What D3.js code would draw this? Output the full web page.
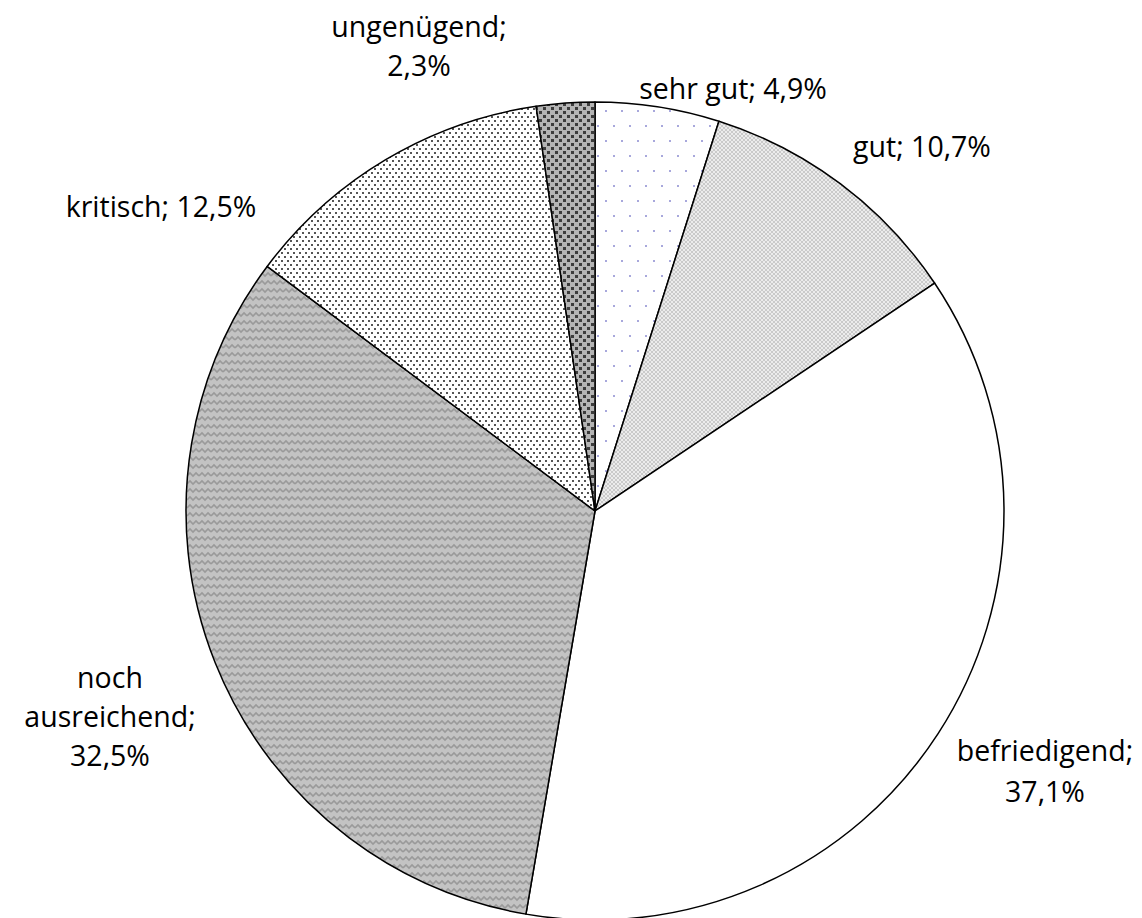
<!DOCTYPE html>
<html>
<head>
<meta charset="utf-8">
<script src="https://cdn.jsdelivr.net/npm/d3@7"></script>
<style>
  body { margin: 0; background: #fff; }
  svg { display: block; }
</style>
</head>
<body>
<div id="chart"></div>
<script>
const width = 1142;
const height = 918;

// data
const categories = ["sehr gut", "gut", "befriedigend", "noch ausreichend", "kritisch", "ungenügend"];
const shares = [4.9, 10.7, 37.1, 32.5, 12.5, 2.3];
// label lines as shown in the chart
const labelLines = [
	["sehr gut; 4,9%"],
	["gut; 10,7%"],
	["befriedigend;", "37,1%"],
	["noch", "ausreichend;", "32,5%"],
	["kritisch; 12,5%"],
	["ungenügend;", "2,3%"],
];
// label anchor points (centre x, first baseline y)
const labelPos = [
	[733, 99],
	[922, 157],
	[1045, 761],
	[110, 688],
	[161, 217],
	[419, 37],
];
const lineGap = [0, 0, 41, 39, 0, 39];
const fills = ["url(#p-dots-blue)", "url(#p-checker)", "#fff", "url(#p-wave)", "url(#p-dots)", "url(#p-squares)"];

const cx = 595, cy = 511, radius = 409;

const svg = d3.select("#chart").append("svg")
	.attr("width", width)
	.attr("height", height);

const defs = svg.append("defs");

// sparse bluish dots
const pBlue = defs.append("pattern")
	.attr("id", "p-dots-blue")
	.attr("patternUnits", "userSpaceOnUse")
	.attr("width", 16).attr("height", 30);
pBlue.append("rect").attr("width", 16).attr("height", 30).attr("fill", "#fff");
pBlue.append("rect").attr("x", 2).attr("y", 4).attr("width", 2).attr("height", 2).attr("fill", "#a8a8dc");
pBlue.append("rect").attr("x", 10).attr("y", 19).attr("width", 2).attr("height", 2).attr("fill", "#a8a8dc");

// fine grey checker
const pCheck = defs.append("pattern")
	.attr("id", "p-checker")
	.attr("patternUnits", "userSpaceOnUse")
	.attr("width", 4).attr("height", 4);
pCheck.append("rect").attr("width", 4).attr("height", 4).attr("fill", "#ececec");
pCheck.append("rect").attr("width", 2).attr("height", 2).attr("fill", "#cacaca");
pCheck.append("rect").attr("x", 2).attr("y", 2).attr("width", 2).attr("height", 2).attr("fill", "#cacaca");

// grey wave
const pWave = defs.append("pattern")
	.attr("id", "p-wave")
	.attr("patternUnits", "userSpaceOnUse")
	.attr("width", 12).attr("height", 8);
pWave.append("rect").attr("width", 12).attr("height", 8).attr("fill", "#c3c3c3");
pWave.append("path")
	.attr("d", "M0,5 L3,2 L6,5 L9,2 L12,5")
	.attr("fill", "none")
	.attr("stroke", "#9a9a9a")
	.attr("stroke-width", 1.6);

// dark dots on white
const pDots = defs.append("pattern")
	.attr("id", "p-dots")
	.attr("patternUnits", "userSpaceOnUse")
	.attr("width", 6).attr("height", 8);
pDots.append("rect").attr("width", 6).attr("height", 8).attr("fill", "#fff");
pDots.append("rect").attr("x", 1).attr("y", 1).attr("width", 2).attr("height", 2).attr("fill", "#555");
pDots.append("rect").attr("x", 4).attr("y", 5).attr("width", 2).attr("height", 2).attr("fill", "#555");

// dark squares on grey
const pSq = defs.append("pattern")
	.attr("id", "p-squares")
	.attr("patternUnits", "userSpaceOnUse")
	.attr("width", 8).attr("height", 8);
pSq.append("rect").attr("width", 8).attr("height", 8).attr("fill", "#b4b4b4");
pSq.append("rect").attr("x", 0).attr("y", 0).attr("width", 3).attr("height", 3).attr("fill", "#3c3c3c");
pSq.append("rect").attr("x", 4).attr("y", 4).attr("width", 3).attr("height", 3).attr("fill", "#3c3c3c");

const pie = d3.pie().sort(null).value((d) => d);
const arc = d3.arc().innerRadius(0).outerRadius(radius);

const g = svg.append("g").attr("transform", `translate(${cx},${cy})`);

g.selectAll("path")
	.data(pie(shares))
	.join("path")
	.attr("d", arc)
	.attr("fill", (d, i) => fills[i])
	.attr("stroke", "#000")
	.attr("stroke-width", 1.5)
	.attr("stroke-linejoin", "round");

// labels
const labels = svg.append("g")
	.attr("font-family", "'Open Sans', 'Noto Sans', sans-serif")
	.attr("font-size", 28.5)
	.attr("fill", "#000")
	.attr("text-anchor", "middle");

labels.selectAll("text")
	.data(categories)
	.join("text")
	.attr("x", (d, i) => labelPos[i][0])
	.attr("y", (d, i) => labelPos[i][1])
	.each(function (d, i) {
		const t = d3.select(this);
		labelLines[i].forEach((line, j) => {
			t.append("tspan")
				.attr("x", labelPos[i][0])
				.attr("dy", j === 0 ? 0 : lineGap[i])
				.text(line);
		});
	});
</script>
</body>
</html>
